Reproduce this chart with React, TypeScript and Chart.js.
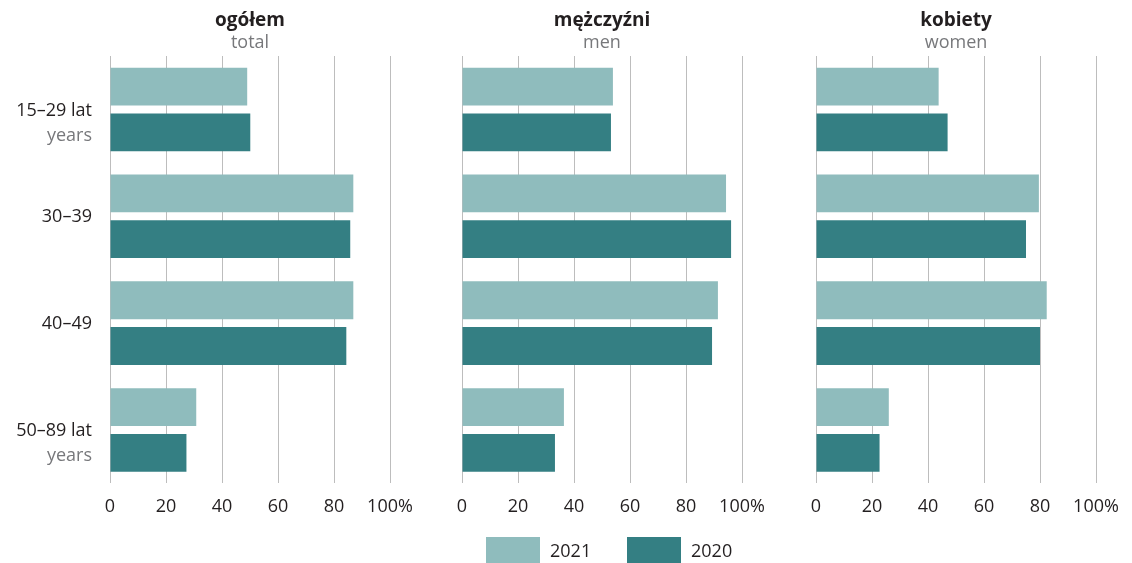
import React, { useEffect, useRef } from "react";
import { Chart, registerables } from "chart.js";

Chart.register(...registerables);

// ---------- data ----------
const categories = ["15–29", "30–39", "40–49", "50–89"];
const categoryMain = ["15–29 lat", "30–39", "40–49", "50–89 lat"];
const categorySub = ["years", "", "", "years"];
const xTicks = [0, 20, 40, 60, 80, 100];
const seriesNames = ["2021", "2020"];
const seriesColors = ["#8fbcbd", "#347f83"];
const panelTitles = ["ogółem", "mężczyźni", "kobiety"];
const panelSubtitles = ["total", "men", "women"];

const total2021 = [49.0, 86.9, 86.9, 30.8];
const total2020 = [50.1, 85.8, 84.4, 27.3];
const men2021 = [53.9, 94.3, 91.4, 36.4];
const men2020 = [53.2, 96.1, 89.3, 33.2];
const women2021 = [43.8, 79.6, 82.4, 26.0];
const women2020 = [47.0, 75.0, 80.0, 22.7];

const FONT = "'Open Sans', 'Noto Sans', sans-serif";
const DARK = "#231f20";
const GREY = "#77787b";
const CANVAS_H = 534;

type PanelProps = {
  left: number;
  width: number;
  padLeft: number;
  padRight: number;
  a: number[];
  b: number[];
  title: string;
  subtitle: string;
  showLabels: boolean;
};

function Panel(props: PanelProps) {
  const ref = useRef<HTMLCanvasElement | null>(null);
  useEffect(() => {
    if (!ref.current) return;
    const headerPlugin = {
      id: "header",
      afterDraw(chart: any) {
        const ctx = chart.ctx;
        const area = chart.chartArea;
        const cx = (area.left + area.right) / 2;
        ctx.save();
        ctx.textAlign = "center";
        ctx.textBaseline = "middle";
        ctx.fillStyle = DARK;
        ctx.font = `bold 19px ${FONT}`;
        ctx.fillText(props.title, cx, 21);
        ctx.fillStyle = GREY;
        ctx.font = `18px ${FONT}`;
        ctx.fillText(props.subtitle, cx, 43);
        if (props.showLabels) {
          const ys = chart.scales.y;
          ctx.textAlign = "right";
          categoryMain.forEach((lab, i) => {
            const y = ys.getPixelForValue(i);
            ctx.fillStyle = DARK;
            ctx.font = `18px ${FONT}`;
            ctx.fillText(lab, area.left - 18, y + 1);
            if (categorySub[i]) {
              ctx.fillStyle = GREY;
              ctx.fillText(categorySub[i], area.left - 18, y + 26);
            }
          });
        }
        ctx.restore();
      },
    };
    const chart = new Chart(ref.current, {
      type: "bar",
      data: {
        labels: categories,
        datasets: [
          {
            label: seriesNames[0],
            data: props.a,
            backgroundColor: seriesColors[0],
            borderWidth: 0,
            categoryPercentage: 0.856,
            barPercentage: 0.826,
          },
          {
            label: seriesNames[1],
            data: props.b,
            backgroundColor: seriesColors[1],
            borderWidth: 0,
            categoryPercentage: 0.856,
            barPercentage: 0.826,
          },
        ],
      },
      options: {
        indexAxis: "y",
        responsive: false,
        maintainAspectRatio: false,
        animation: false,
        events: [],
        layout: {
          padding: { left: props.padLeft, right: props.padRight, top: 56, bottom: 3 },
        },
        plugins: {
          legend: { display: false },
          tooltip: { enabled: false },
          title: { display: false },
        },
        scales: {
          x: {
            type: "linear",
            min: 0,
            max: 100,
            afterBuildTicks: (scale: any) => {
              scale.ticks = xTicks.map((v) => ({ value: v }));
            },
            grid: { color: "#bdbdbd", lineWidth: 1, drawTicks: false },
            border: { display: false },
            ticks: {
              padding: 13,
              color: DARK,
              font: { family: FONT, size: 18 },
              callback: (v: any) => (Number(v) === 100 ? "100%" : String(v)),
            },
          },
          y: {
            type: "category",
            display: false,
            offset: true,
          },
        },
      },
      plugins: [headerPlugin],
    } as any);
    return () => chart.destroy();
  }, []);
  return (
    <canvas
      ref={ref}
      width={props.width}
      height={CANVAS_H}
      style={{ position: "absolute", left: props.left, top: 0, width: props.width, height: CANVAS_H }}
    />
  );
}

export default function App() {
  return (
    <div
      style={{
        position: "absolute",
        left: 0,
        top: 0,
        width: 1132,
        height: 563,
        background: "#ffffff",
        overflow: "hidden",
        fontFamily: FONT,
      }}
    >
      <Panel left={0} width={430} padLeft={110} padRight={40} a={total2021} b={total2020}
        title={panelTitles[0]} subtitle={panelSubtitles[0]} showLabels={true} />
      <Panel left={422} width={360} padLeft={40} padRight={40} a={men2021} b={men2020}
        title={panelTitles[1]} subtitle={panelSubtitles[1]} showLabels={false} />
      <Panel left={776} width={356} padLeft={40} padRight={36} a={women2021} b={women2020}
        title={panelTitles[2]} subtitle={panelSubtitles[2]} showLabels={false} />
      {seriesNames.map((name, i) => (
        <div
          key={name}
          style={{
            position: "absolute",
            left: i === 0 ? 486 : 627,
            top: 537,
            height: 26,
            display: "flex",
            alignItems: "center",
          }}
        >
          <div style={{ width: 54, height: 26, background: seriesColors[i] }} />
          <span style={{ marginLeft: 10, fontSize: 18, color: DARK, lineHeight: "26px" }}>{name}</span>
        </div>
      ))}
    </div>
  );
}
